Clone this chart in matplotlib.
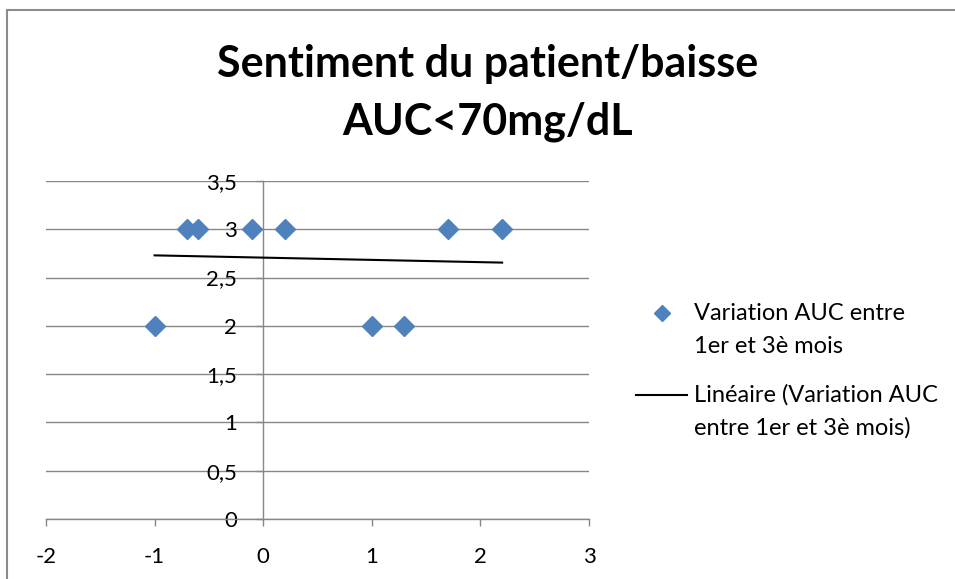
import numpy as np
import matplotlib
matplotlib.use("Agg")
import matplotlib.pyplot as plt
from matplotlib.lines import Line2D

plt.rcParams['font.family'] = ['Lato', 'DejaVu Sans']

# ─── Données ──────────────────────────────────────────────────────────────────
variation_auc = [-1.0, -0.7, -0.6, -0.1, 0.2, 1.0, 1.3, 1.7, 2.2]
sentiment = [2, 3, 3, 3, 3, 2, 2, 3, 3]

# courbe de tendance linéaire (extrémités)
trend_x = [-1.0, 2.2]
trend_y = [2.73, 2.655]

x_ticks = [-2, -1, 0, 1, 2, 3]
y_ticks = [0, 0.5, 1, 1.5, 2, 2.5, 3, 3.5]
y_tick_labels = ['0', '0,5', '1', '1,5', '2', '2,5', '3', '3,5']

title_lines = ["Sentiment du patient/baisse", "AUC<70mg/dL"]
label_series = ["Variation AUC entre", "1er et 3è mois"]
label_trend = ["Linéaire (Variation AUC", "entre 1er et 3è mois)"]

BLUE = '#4F81BD'
GRID = '#878787'

W, H = 955, 579
fig = plt.figure(figsize=(W / 100, H / 100), dpi=100)
ax = fig.add_axes([46 / W, (H - 519) / H, 543 / W, 338 / H])

# ─── Tracé ────────────────────────────────────────────────────────────────────
ax.plot(variation_auc, sentiment, ls='none', marker='D', ms=10,
        color=BLUE, zorder=3)
ax.plot(trend_x, trend_y, color='black', lw=1.5, zorder=4)

ax.set_xlim(x_ticks[0], x_ticks[-1])
ax.set_ylim(y_ticks[0], y_ticks[-1])
ax.set_xticks(x_ticks)
ax.set_xticklabels([str(v) for v in x_ticks])
ax.set_yticks(y_ticks)
ax.set_yticklabels(y_tick_labels)

for s in ['top', 'right']:
    ax.spines[s].set_visible(False)
ax.spines['left'].set_position(('data', 0))
ax.spines['left'].set_color(GRID)
ax.spines['bottom'].set_color(GRID)
ax.spines['left'].set_linewidth(1.0)
ax.spines['bottom'].set_linewidth(1.0)
ax.yaxis.grid(True, color=GRID, lw=1.0)
ax.set_axisbelow(True)

ax.tick_params(axis='y', direction='out', length=5, width=1.0, color=GRID,
               labelsize=16, pad=14)
ax.tick_params(axis='x', direction='out', length=5, width=1.0, color=GRID,
               labelsize=16, pad=15)

# ─── Titre ────────────────────────────────────────────────────────────────────
for line, base in zip(title_lines, [77, 134]):
    fig.text(488 / W, 1 - base / H, line, ha='center', va='baseline',
             fontsize=31, fontweight='bold')

# ─── Légende ──────────────────────────────────────────────────────────────────
fig.add_artist(Line2D([662 / W], [1 - 313 / H], marker='D', ms=8.5,
                      color=BLUE, ls='none'))
fig.add_artist(Line2D([636 / W, 687 / W], [1 - 395 / H] * 2,
                      color='black', lw=1.5))
for lines, base in [(label_series, 320), (label_trend, 402)]:
    for i, line in enumerate(lines):
        fig.text(694 / W, 1 - (base + 33 * i) / H, line, ha='left',
                 va='baseline', fontsize=17)

# ─── Cadre ────────────────────────────────────────────────────────────────────
fig.add_artist(Line2D([7 / W, 7 / W], [0, 1 - 10 / H], color='#8c8c8c', lw=1.5))
fig.add_artist(Line2D([7 / W, 1], [1 - 10 / H] * 2, color='#8c8c8c', lw=1.5))

fig.savefig("out.png", dpi=100)
